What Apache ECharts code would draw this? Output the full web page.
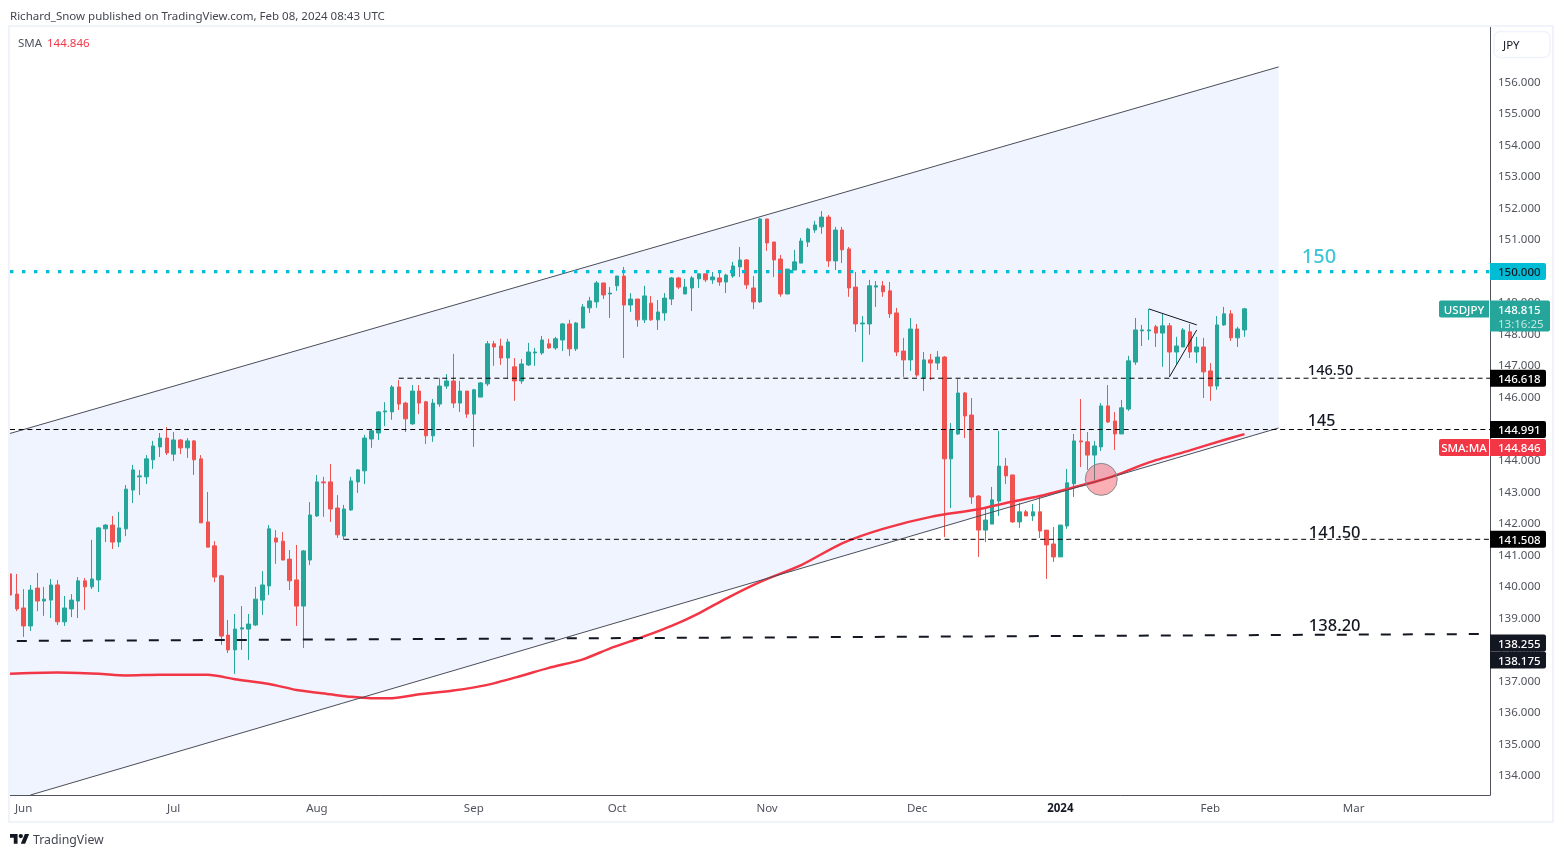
<!DOCTYPE html>
<html><head><meta charset="utf-8">
<style>html,body{margin:0;padding:0;background:#fff}#c{width:1564px;height:857px}</style>
<script src="https://cdn.jsdelivr.net/npm/echarts@6/dist/echarts.min.js"></script>
</head><body><div id="c"></div>
<script>
const FONT = '"Noto Sans", sans-serif';
const opens = [
140.41,139.77,139.33,138.76,139.96,139.55,139.58,140.06,138.89,139.30,
139.55,140.19,140.00,140.22,141.84,141.96,141.42,141.84,143.07,143.49,
143.49,144.03,144.44,144.72,144.21,144.66,144.41,144.63,144.06,142.06,
141.30,140.35,138.47,138.00,138.66,138.66,138.79,139.58,140.03,141.55,
141.45,140.88,140.22,139.39,140.85,142.25,143.33,143.33,142.50,141.61,
142.44,143.33,143.68,144.69,144.88,145.55,145.55,146.34,145.83,145.17,
146.21,145.87,144.79,145.80,146.37,146.53,145.83,146.21,145.48,146.02,
146.44,147.71,147.64,147.26,146.98,146.53,147.04,147.42,147.42,147.71,
147.58,147.83,148.34,147.55,148.21,148.85,149.04,149.64,149.29,149.55,
149.86,148.94,149.13,148.47,149.00,148.47,148.69,149.13,149.80,149.29,
149.48,149.77,149.93,149.74,149.80,149.67,149.86,150.15,150.37,149.48,
149.04,151.67,150.94,150.40,149.29,150.05,150.27,150.94,151.32,151.42,
151.73,150.34,151.32,150.72,149.51,148.34,148.34,149.51,149.55,149.39,
148.69,147.48,147.20,148.18,146.63,147.20,147.10,147.29,144.06,144.85,
146.15,145.45,142.88,141.80,141.99,142.72,143.83,143.55,142.06,142.38,
142.25,142.38,141.80,141.36,140.95,141.93,143.27,144.63,144.60,144.18,
144.44,145.74,145.26,144.85,145.64,147.13,148.12,148.12,148.25,148.05,
148.28,147.45,147.61,148.09,147.45,147.61,146.85,146.37,148.31,148.66,
147.90,148.15];
const closes = [
139.74,139.30,138.76,139.90,139.55,139.61,140.06,138.89,139.33,139.58,
140.19,140.00,140.25,141.87,141.96,141.42,141.87,143.10,143.71,143.52,
144.06,144.47,144.72,144.25,144.66,144.41,144.63,144.03,142.03,141.26,
140.31,138.44,138.00,138.66,138.70,138.82,139.61,140.06,141.84,141.42,
140.85,140.19,139.39,141.14,142.28,143.33,143.30,142.47,141.65,142.47,
143.36,143.71,144.72,144.95,145.55,145.58,146.34,145.80,145.33,146.21,
145.83,144.79,145.83,146.37,146.53,145.83,146.21,145.48,146.25,146.47,
147.71,147.61,147.26,147.77,146.53,147.07,147.45,147.45,147.83,147.58,
147.87,148.34,147.55,148.37,148.88,149.07,149.64,149.26,149.32,149.86,
148.94,149.13,148.47,149.23,148.47,148.72,149.16,149.80,149.51,149.51,
149.80,149.93,149.74,149.83,149.67,149.89,150.18,150.37,149.58,149.04,
151.67,150.91,150.37,149.29,150.08,150.31,150.97,151.35,151.48,151.73,
150.34,151.32,150.69,149.48,148.34,148.37,149.55,149.55,149.36,148.66,
147.45,147.20,148.18,146.72,147.20,147.10,147.29,144.06,144.98,146.15,
145.42,142.85,141.80,142.12,142.76,143.83,143.52,142.06,142.38,142.25,
142.38,141.77,141.33,140.95,141.96,143.30,144.63,144.60,144.18,144.47,
145.74,145.23,144.85,145.68,147.17,148.15,148.15,148.15,148.05,148.28,
147.45,147.64,148.15,147.45,147.61,146.82,146.37,148.31,148.66,147.90,
148.18,148.82];
const lows = [
139.74,139.23,138.41,138.60,139.23,139.08,139.01,138.79,138.76,139.04,
139.01,139.27,139.93,139.84,141.42,141.20,141.26,141.61,142.66,142.91,
143.26,143.74,144.12,144.18,143.99,144.21,144.09,143.55,142.03,141.26,
140.15,138.16,137.90,137.24,138.00,137.68,138.76,139.11,139.74,140.73,
140.85,139.90,138.76,138.06,140.69,142.22,142.22,142.06,141.55,141.49,
142.41,142.98,143.26,144.41,144.66,145.10,145.30,145.61,144.91,145.14,
145.48,144.53,144.60,145.71,146.28,145.67,145.55,145.36,144.44,146.02,
146.37,147.01,147.04,146.60,145.90,146.44,147.01,147.01,147.36,147.55,
147.52,147.48,147.32,147.48,148.21,148.69,148.85,149.13,148.53,149.39,
147.26,148.72,148.25,148.37,148.44,148.15,148.44,148.94,149.45,149.29,
148.75,149.48,149.67,149.61,149.55,149.32,149.80,149.83,149.45,148.81,
149.01,150.66,149.83,149.20,149.29,150.05,150.27,150.78,151.23,151.20,
150.15,150.05,150.27,149.20,148.09,147.13,148.00,148.88,149.20,148.53,
147.32,146.66,146.85,146.66,146.21,146.56,146.88,141.58,142.50,144.82,
144.72,142.63,140.95,141.42,141.99,142.25,143.26,142.03,141.87,142.25,
142.09,141.55,140.25,140.79,140.95,141.84,142.85,143.80,143.71,143.39,
144.31,145.20,144.34,144.85,145.58,147.04,147.64,147.83,147.61,146.98,
146.66,147.07,147.61,147.26,147.10,145.99,145.90,146.25,148.28,147.80,
147.61,147.93];
const highs = [
140.41,140.41,139.93,140.06,140.44,140.00,140.25,140.22,139.71,139.77,
140.31,140.28,141.49,141.90,141.99,142.25,142.38,143.23,143.87,143.71,
144.18,144.63,144.88,145.07,144.91,144.69,144.72,144.66,144.18,143.01,
141.45,140.38,138.95,139.14,139.39,139.14,140.00,140.50,141.96,141.80,
141.74,141.17,141.33,141.17,142.69,143.55,143.49,143.90,142.91,142.60,
143.49,143.74,144.82,145.01,145.58,145.86,146.40,146.56,145.87,146.40,
146.40,145.90,145.96,146.63,146.75,147.39,146.53,146.21,146.28,146.50,
147.80,147.80,147.87,147.87,147.26,147.23,147.74,147.58,147.96,147.87,
147.93,148.37,148.47,148.40,148.97,149.20,149.70,149.64,149.51,149.86,
150.15,149.32,149.13,149.55,149.23,149.10,149.32,149.83,149.83,149.77,
149.86,149.93,149.93,149.99,149.96,149.93,150.31,150.78,150.40,149.86,
151.70,151.67,150.94,150.53,150.08,150.69,151.07,151.39,151.61,151.92,
151.80,151.42,151.42,150.78,149.99,148.59,149.74,149.70,149.70,149.67,
148.85,147.90,148.53,148.34,147.45,147.39,147.48,147.32,145.20,146.59,
146.18,145.99,142.91,142.47,143.17,144.95,144.09,143.55,142.66,142.44,
142.63,142.85,141.80,141.90,141.96,143.74,144.85,145.96,144.91,144.63,
145.83,146.40,145.55,145.93,147.33,148.53,148.31,148.82,148.31,148.66,
148.37,147.93,148.21,148.34,147.93,147.90,147.10,148.59,148.88,148.78,
148.25,148.85];
// SMA readings: [bar index, value]
const smaPoints = [[0,137.24],[3,137.27],[7,137.28],[13,137.24],[17,137.19],[22,137.21],[29,137.21],[33,137.07],[38,136.92],[42,136.73],[47,136.59],[50,136.51],[53,136.47],[56,136.47],[60,136.59],[65,136.71],[70,136.89],[75,137.18],[79,137.43],[84,137.70],[88,138.05],[92,138.35],[97,138.76],[101,139.16],[105,139.63],[110,140.16],[116,140.69],[122,141.38],[128,141.84],[135,142.22],[142,142.46],[146,142.66],[151,142.88],[155,143.10],[160,143.39],[163,143.61],[167,143.95],[173,144.33],[178,144.66],[181,144.846]];
const monthTicks = {2:'Jun',24:'Jul',45:'Aug',68:'Sep',89:'Oct',111:'Nov',133:'Dec',154:'2024',176:'Feb',197:'Mar'};
const priceTicks = [134,135,136,137,138,139,140,141,142,143,144,145,146,147,148,149,150,151,152,153,154,155,156];
const channelUpper = [[0,144.866],[186,156.494]];
const channelLower = [[3,133.397],[186,145.04]];
const level14662 = [[57,146.618],[217,146.618]];
const level14499 = [[0,144.991],[217,144.991]];
const level14151 = [[49,141.508],[217,141.508]];
const level13825 = [[1,138.283],[217,138.505]];
const level150 = [[0,150],[217,150]];
const pennantTop = [[167,148.816],[174,148.31]];
const pennantBottom = [[170,146.66],[174,148.15]];
const circlePoint = [[160,143.41]];
const noteTexts = ['150','146.50','145','141.50','138.20'];
const noteBars = [190,190,190,190,190];
const notePrices = [150.50,146.91,145.29,141.74,138.79];
const tagTexts = ['150.000','146.618','144.991','144.846','141.508','138.255','138.175'];
const tagPrices = [150,146.618,144.991,144.42,141.508,138.22,137.68];
const sideTagTexts = ['USDJPY','SMA:MA'];
const sideTagPrices = [148.815,144.42];
const lastPriceText = '148.815';
const lastPriceTimer = '13:16:25';
const lastPriceValue = 148.815;

// presentation of the annotations
const noteStyles = [
 {dx:-4,size:20,color:'#3fc6d9',weight:500},
 {dx:2,size:14.5,color:'#131722',weight:500},
 {dx:2,size:16,color:'#131722',weight:500},
 {dx:3,size:16.5,color:'#131722',weight:500},
 {dx:3,size:16.5,color:'#131722',weight:500}
];
const tagColors = [['#00bcd4','#131722'],['#000','#fff'],['#000','#fff'],['#f23645','#fff'],['#000','#fff'],['#131722','#fff'],['#131722','#fff']];
const sideTagColors = ['#26a69a','#f23645'];
const TEXT_DY = 1.5;

// weekdays from May 30 2023, market closed on Jan 1 2024
const categories = [];
for (let d = new Date(Date.UTC(2023,4,30)); categories.length < 218; d = new Date(d.getTime()+864e5)) {
  const wd = d.getUTCDay(); const s = d.toISOString().slice(0,10);
  if (wd !== 0 && wd !== 6 && s !== '2024-01-01') categories.push(s);
}
const candles = opens.map((o,i)=>[o,closes[i],lows[i],highs[i]]);

function lineSeries(data, color, width, dash, z){
  return {type:'line',data,symbol:'none',silent:true,z:z||5,animation:false,
    lineStyle:{color,width,type:dash||'solid',cap:'butt'}};
}
const chart = echarts.init(document.getElementById('c'),null,{renderer:'canvas'});
chart.setOption({
  animation:false,
  backgroundColor:'#ffffff',
  textStyle:{fontFamily:FONT},
  grid:{left:10,top:27,width:1480,height:768,containLabel:false},
  xAxis:{type:'category',data:categories,boundaryGap:false,
    axisLine:{show:true,lineStyle:{color:'#50535e',width:1}},axisTick:{show:false},splitLine:{show:false},
    axisLabel:{margin:8,fontFamily:FONT,fontSize:11.5,color:'#50535e',
      interval:(i)=>monthTicks[i]!==undefined,hideOverlap:false,
      formatter:(v,i)=>monthTicks[i]==='2024'?'{b|2024}':(monthTicks[i]||''),
      rich:{b:{fontWeight:'bold',fontFamily:FONT,fontSize:11.5,color:'#131722'}}}},
  yAxis:{type:'value',position:'right',min:133.397,max:157.76,scale:true,
    axisLine:{show:true,lineStyle:{color:'#50535e',width:1}},axisTick:{show:false},splitLine:{show:false},
    axisLabel:{margin:8,fontFamily:FONT,fontSize:11.5,color:'#50535e',customValues:priceTicks,padding:[3,0,0,0],
      formatter:(v)=>v.toFixed(3)}},
  series:[
    {type:'custom',z:1,silent:true,clip:true,data:[[0,0]],
     renderItem:(p,api)=>{
       const pts=[channelUpper[0],channelUpper[1],channelLower[1],channelLower[0],[channelUpper[0][0],channelLower[0][1]]].map(c=>api.coord(c));
       return {type:'polygon',shape:{points:pts},style:{fill:'#eff4fe'}};
     }},
    {type:'candlestick',z:3,barWidth:4,data:candles,silent:true,
     itemStyle:{color:'#26a69a',color0:'#ef5350',borderColor:'#26a69a',borderColor0:'#ef5350',borderWidth:1}},
    Object.assign(lineSeries(smaPoints,'#f23645',2.5,'solid',4),{smooth:0.25,connectNulls:true}),
    lineSeries(channelUpper,'#4a4d59',1),
    lineSeries(channelLower,'#4a4d59',1),
    lineSeries(level14662,'#000000',1,[5,3.7]),
    lineSeries(level14499,'#000000',1,[5,3.7]),
    lineSeries(level14151,'#000000',1,[5,3.7]),
    lineSeries(level13825,'#131722',2,[10,12]),
    lineSeries(level150,'#00bcd4',3.4,[3.4,8.6]),
    lineSeries(pennantTop,'#131722',1),
    lineSeries(pennantBottom,'#131722',1),
    {type:'scatter',z:6,silent:true,data:circlePoint,symbol:'circle',symbolSize:32,
     itemStyle:{color:'rgba(242,54,69,0.4)',borderColor:'#8a8a8a',borderWidth:1,opacity:1}},
    {type:'custom',z:7,silent:true,clip:false,data:noteTexts.map((n,i)=>[noteBars[i],notePrices[i]]),
     renderItem:(p,api)=>{
       const i=p.dataIndex, s=noteStyles[i]; const c=api.coord([noteBars[i],notePrices[i]]);
       return {type:'text',x:c[0]+s.dx,y:c[1]+TEXT_DY,style:{text:noteTexts[i],fontFamily:FONT,fontSize:s.size,fill:s.color,align:'left',verticalAlign:'middle',fontWeight:s.weight}};
     }},
    {type:'custom',z:20,silent:true,clip:false,data:tagTexts.map((t,i)=>[217,tagPrices[i]]),
     renderItem:(p,api)=>{
       const i=p.dataIndex; const c=api.coord([217,tagPrices[i]]);
       return {type:'group',children:[
         {type:'rect',shape:{x:c[0],y:c[1]-8.5,width:56,height:17,r:[0,2,2,0]},style:{fill:tagColors[i][0]}},
         {type:'text',x:c[0]+8,y:c[1]+TEXT_DY,style:{text:tagTexts[i],fontFamily:FONT,fontSize:11.5,fill:tagColors[i][1],verticalAlign:'middle',align:'left',fontWeight:500}}
       ]};
     }},
    {type:'custom',z:20,silent:true,clip:false,data:sideTagTexts.map((t,i)=>[217,sideTagPrices[i]]),
     renderItem:(p,api)=>{
       const i=p.dataIndex; const c=api.coord([217,sideTagPrices[i]]);
       return {type:'group',children:[
         {type:'rect',shape:{x:c[0]-51,y:c[1]-8.5,width:50,height:17,r:[2,0,0,2]},style:{fill:sideTagColors[i]}},
         {type:'text',x:c[0]-26,y:c[1]+TEXT_DY,style:{text:sideTagTexts[i],fontFamily:FONT,fontSize:11.5,fill:'#fff',verticalAlign:'middle',align:'center',fontWeight:500}}
       ]};
     }},
    {type:'custom',z:20,silent:true,clip:false,data:[[217,lastPriceValue]],
     renderItem:(p,api)=>{
       const c=api.coord([217,lastPriceValue]);
       return {type:'group',children:[
         {type:'rect',shape:{x:c[0],y:c[1]-8.5,width:60,height:31,r:[0,2,2,0]},style:{fill:'#26a69a'}},
         {type:'text',x:c[0]+8,y:c[1]+TEXT_DY,style:{text:lastPriceText,fontFamily:FONT,fontSize:11.5,fill:'#ffffff',verticalAlign:'middle',fontWeight:500}},
         {type:'text',x:c[0]+8,y:c[1]+14+TEXT_DY,style:{text:lastPriceTimer,fontFamily:FONT,fontSize:11.5,fill:'rgba(255,255,255,0.72)',verticalAlign:'middle'}}
       ]};
     }}
  ],
  graphic:[
    {type:'rect',z:30,silent:true,shape:{x:9,y:26,width:1544,height:796},style:{fill:'none',stroke:'#f0f3fa',lineWidth:2}},
    {type:'rect',z:30,silent:true,shape:{x:1494,y:31.5,width:56,height:26,r:6},style:{fill:'#fff',stroke:'#f0f3fa',lineWidth:1.5}},
    {type:'text',z:31,silent:true,x:1503,y:45.5,style:{text:'JPY',fontFamily:FONT,fontSize:11.5,fill:'#131722',verticalAlign:'middle'}},
    {type:'text',z:31,silent:true,x:10,y:16.5,style:{text:'Richard_Snow published on TradingView.com, Feb 08, 2024 08:43 UTC',fontFamily:FONT,fontSize:11.5,fill:'#434651',verticalAlign:'middle'}},
    {type:'text',z:31,silent:true,x:18,y:43.5,style:{text:'SMA',fontFamily:FONT,fontSize:11.5,fill:'#50535e',verticalAlign:'middle'}},
    {type:'text',z:31,silent:true,x:47,y:43.5,style:{text:'144.846',fontFamily:FONT,fontSize:11.5,fill:'#f23645',verticalAlign:'middle'}},
    {type:'polygon',z:31,silent:true,x:10,y:831.8,scaleX:.54,scaleY:.54,shape:{points:[[14,22],[7,22],[7,11],[0,11],[0,4],[14,4]]},style:{fill:'#131722'}},
    {type:'polygon',z:31,silent:true,x:10,y:831.8,scaleX:.54,scaleY:.54,shape:{points:[[28,22],[20,22],[27.5,4],[35.5,4]]},style:{fill:'#131722'}},
    {type:'circle',z:31,silent:true,x:10,y:831.8,scaleX:.54,scaleY:.54,shape:{cx:20,cy:8,r:4},style:{fill:'#131722'}},
    {type:'text',z:31,silent:true,x:33,y:840.5,style:{text:'TradingView',fontFamily:FONT,fontSize:12.3,fill:'#434651',verticalAlign:'middle'}}
  ]
});
</script></body></html>
